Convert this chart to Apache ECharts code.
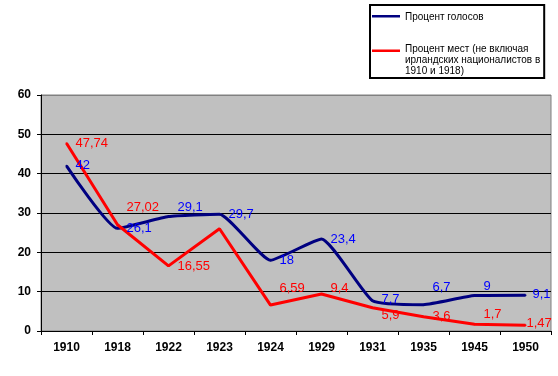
<!DOCTYPE html>
<html>
<head>
<meta charset="utf-8">
<script src="https://cdn.jsdelivr.net/npm/echarts@6/dist/echarts.min.js"></script>
<style>
    html, body { margin: 0; padding: 0; background: #fff; }
    #main { width: 558px; height: 376px; }
</style>
</head>
<body>
<div id="main"></div>
<script>
;(function () {

    var years = ['1910', '1918', '1922', '1923', '1924', '1929', '1931', '1935', '1945', '1950'];
    var votes = [42, 26.1, 29.1, 29.7, 18, 23.4, 7.7, 6.7, 9, 9.1];
    var seats = [47.74, 27.02, 16.55, 26, 6.59, 9.4, 5.9, 3.6, 1.7, 1.47];
    var seriesNames = [
        'Процент голосов',
        'Процент мест (не включая\nирландских националистов в\n1910 и 1918)'
    ];

    var FONT = 'Liberation Sans, Arial, sans-serif';

    function comma(p) {
        return String(p.value).replace('.', ',');
    }

    // подписи сдвинуты вверх/вниз как в исходнике
    function withLabels(values, shift, hidden, dist) {
        return values.map(function (v, i) {
            var item = {value: v};
            if (hidden.indexOf(i) > -1) {
                item.label = {show: false};
            } else if (shift[i] !== undefined || dist[i] !== undefined) {
                item.label = {
                    offset: [0, shift[i] || 0],
                    distance: dist[i] !== undefined ? dist[i] : 8
                };
            }
            return item;
        });
    }

    var chart = echarts.init(document.getElementById('main'));

    var option = {
        animation: false,
        backgroundColor: '#fff',
        textStyle: {fontFamily: FONT},
        grid: {
            left: 41,
            right: 7,
            top: 95,
            bottom: 45,
            show: true,
            backgroundColor: '#C0C0C0',
            borderColor: '#808080',
            borderWidth: 1
        },
        legend: {
            orient: 'vertical',
            left: 370,
            top: 5,
            padding: [1, 4, 1, 2],
            itemGap: 16,
            itemWidth: 28,
            itemHeight: 22,
            borderColor: '#000',
            borderWidth: 2,
            backgroundColor: '#fff',
            itemStyle: {borderWidth: 0},
            textStyle: {fontFamily: FONT, fontSize: 10, color: '#000', lineHeight: 11},
            data: [
                {name: seriesNames[0], icon: 'path://M0,9L28,9L28,11.5L0,11.5Z M0,0L28,0Z M0,22L28,22Z'},
                {name: seriesNames[1], icon: 'path://M0,0L28,0L28,2.5L0,2.5Z M0,22L28,22Z'}
            ]
        },
        xAxis: {
            type: 'category',
            data: years,
            boundaryGap: true,
            axisLine: {lineStyle: {color: '#000', width: 1}},
            axisTick: {show: true, length: 4, lineStyle: {color: '#000'}},
            axisLabel: {
                color: '#000',
                fontWeight: 'bold',
                fontSize: 12,
                fontFamily: FONT,
                margin: 11
            }
        },
        yAxis: {
            type: 'value',
            min: 0,
            max: 60,
            interval: 10,
            axisLine: {show: true, lineStyle: {color: '#000', width: 1}},
            axisTick: {show: true, length: 4, lineStyle: {color: '#000'}},
            axisLabel: {
                color: '#000',
                fontWeight: 'bold',
                fontSize: 12,
                fontFamily: FONT,
                margin: 10
            },
            splitLine: {
                show: true,
                lineStyle: {
                    color: ['#000', '#000', '#000', '#000', '#000', '#000', '#808080'],
                    width: 1
                }
            }
        },
        series: [
            {
                name: seriesNames[0],
                type: 'line',
                smooth: 0.15,
                symbol: 'circle',
                symbolSize: 2,
                itemStyle: {color: '#000080'},
                lineStyle: {color: '#000080', width: 3},
                label: {
                    show: true,
                    position: 'right',
                    distance: 8,
                    color: '#0000FF',
                    fontSize: 13,
                    fontFamily: FONT,
                    formatter: comma
                },
                data: withLabels(votes, {2: -9, 6: -1, 7: -17, 8: -9, 9: -1}, [], {9: 6})
            },
            {
                name: seriesNames[1],
                type: 'line',
                symbol: 'circle',
                symbolSize: 2,
                itemStyle: {color: '#FF0000'},
                lineStyle: {color: '#FF0000', width: 3},
                label: {
                    show: true,
                    position: 'right',
                    distance: 8,
                    color: '#FF0000',
                    fontSize: 13,
                    fontFamily: FONT,
                    formatter: comma
                },
                data: withLabels(seats, {1: -17, 2: 1, 4: -17, 5: -6, 6: 8, 8: -10, 9: -2}, [3], {9: 0})
            }
        ]
    };

    chart.setOption(option);
})();
</script>
</body>
</html>
